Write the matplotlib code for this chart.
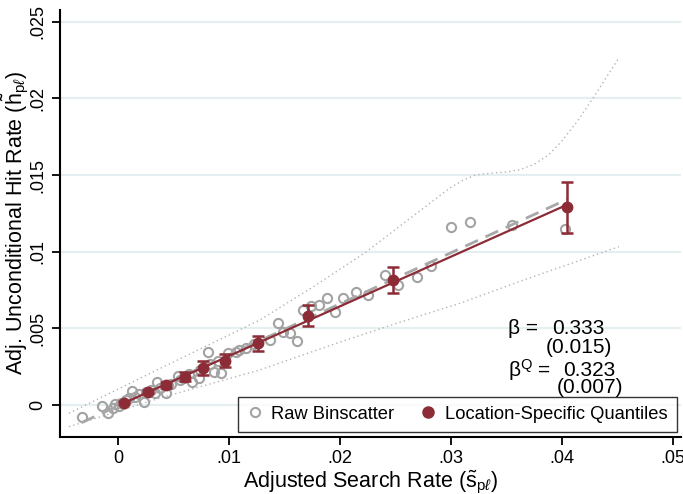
import matplotlib
matplotlib.use("Agg")
import matplotlib.pyplot as plt
import numpy as np

plt.rcParams["font.family"] = ["Liberation Sans", "DejaVu Sans"]
plt.rcParams["mathtext.fontset"] = "custom"
plt.rcParams["mathtext.rm"] = "Liberation Sans"
plt.rcParams["mathtext.it"] = "Liberation Sans:italic"

# raw binscatter (hollow grey)
raw_x = [-0.00328, -0.00142, -0.00088, -0.00050, -0.00030, 0.00010, 0.00030, 0.00070,
         0.00100, 0.00124, 0.00150, 0.00190, 0.00235, 0.00250, 0.00300, 0.00350,
         0.00330, 0.00380, 0.00430, 0.00450, 0.00480, 0.00537, 0.00560, 0.00590,
         0.00667, 0.00640, 0.00727, 0.00740, 0.00808, 0.00830, 0.00868, 0.00929,
         0.00900, 0.00989, 0.01060, 0.01095, 0.01155, 0.01230, 0.01366, 0.01441,
         0.01486, 0.01547, 0.01613, 0.01668, 0.01743, 0.01812, 0.01884, 0.01954,
         0.02030, 0.02144, 0.02256, 0.02406, 0.02527, 0.02693, 0.02820, 0.03000,
         0.03170, 0.03550, 0.04030]
raw_y = [-0.00080, -0.00007, -0.00054, -0.00022, 0.00005, -0.00007, 0.00010, 0.00030,
         0.00045, 0.00093, 0.00055, 0.00070, 0.00022, 0.00085, 0.00095, 0.00148,
         0.00080, 0.00110, 0.00076, 0.00130, 0.00140, 0.00189, 0.00160, 0.00175,
         0.00152, 0.00200, 0.00174, 0.00230, 0.00344, 0.00265, 0.00218, 0.00207,
         0.00290, 0.00337, 0.00345, 0.00359, 0.00370, 0.00395, 0.00424, 0.00533,
         0.00479, 0.00472, 0.00420, 0.00620, 0.00646, 0.00653, 0.00700, 0.00605,
         0.00697, 0.00736, 0.00718, 0.00849, 0.00783, 0.00837, 0.00907, 0.01160,
         0.01194, 0.01175, 0.01149]

# location-specific quantiles (filled red) with error bars
q_x = [0.00054, 0.00274, 0.00431, 0.00606, 0.00769, 0.00968, 0.01260, 0.01713, 0.02481, 0.04050]
q_y = [0.00015, 0.00087, 0.00131, 0.00185, 0.00240, 0.00289, 0.00403, 0.00583, 0.00816, 0.01290]
q_err = [0.00008, 0.00012, 0.00018, 0.00030, 0.00044, 0.00044, 0.00048, 0.00067, 0.00087, 0.00165]

# dotted confidence band
upper_x = [-0.00443, 0.0037, 0.0128, 0.0180, 0.0224, 0.0260, 0.0280, 0.0300, 0.0312,
           0.0322, 0.0335, 0.0350, 0.0362, 0.0375, 0.0388, 0.0400, 0.0415, 0.0429, 0.0452]
upper_y = [-0.00054, 0.00235, 0.00555, 0.0079, 0.0100, 0.0120, 0.0131, 0.0142, 0.01470,
           0.01500, 0.01512, 0.0152, 0.01535, 0.0157, 0.0163, 0.0172, 0.0186, 0.0201, 0.0227]
lower_x = [-0.00443, 0.0040, 0.01276, 0.0200, 0.02500, 0.03085, 0.0366, 0.04517]
lower_y = [-0.00142, 0.00050, 0.00228, 0.00410, 0.00530, 0.00664, 0.00816, 0.01033]

x_ticks = [0, 0.01, 0.02, 0.03, 0.04, 0.05]
x_labels = ["0", ".01", ".02", ".03", ".04", ".05"]
y_ticks = [0, 0.005, 0.01, 0.015, 0.02, 0.025]
y_labels = ["0", ".005", ".01", ".015", ".02", ".025"]

red = "#8b2c36"
grey = "#a3a3a3"

fig = plt.figure(figsize=(6.83, 4.94), dpi=100)
ax = fig.add_axes([0.0878, 0.1154, 0.9092, 0.8645])

ax.set_xlim(-0.00524, 0.05076)
ax.set_ylim(-0.00209, 0.02578)

ax.set_yticks(y_ticks)
ax.set_yticklabels(y_labels, rotation=90, va="center")
ax.set_xticks(x_ticks)
ax.set_xticklabels(x_labels)
ax.tick_params(axis="both", labelsize=13, length=6, width=1.3, color="black")
ax.tick_params(axis="y", pad=4)
ax.grid(axis="y", color="#e5eef0", lw=1.6, zorder=0)
ax.set_axisbelow(True)
for s in ["top", "right"]:
    ax.spines[s].set_visible(False)
for s in ["left", "bottom"]:
    ax.spines[s].set_linewidth(1.5)

# confidence bands
ax.plot(upper_x, upper_y, color="#b4b4b4", lw=1.0, ls=(0, (1, 2.2)), zorder=1)
ax.plot(lower_x, lower_y, color="#b4b4b4", lw=1.0, ls=(0, (1, 2.2)), zorder=1)

# raw scatter and its fit
ax.plot(raw_x, raw_y, ls="none", marker="o", ms=6.6, mfc="none", mec=grey, mew=1.5, zorder=2)
b_raw = np.polyfit(raw_x, raw_y, 1)
fx = np.array([min(raw_x), max(q_x)])
ax.plot(fx, np.polyval(b_raw, fx), color="#a8a8a8", lw=2.0, ls=(0, (5, 3)), zorder=3)

# quantile fit and points
b_q = np.polyfit(q_x, q_y, 1)
qx = np.array([q_x[0], q_x[-1]])
ax.plot(qx, np.polyval(b_q, qx), color=red, lw=1.6, zorder=4)
ax.errorbar(q_x, q_y, yerr=q_err, fmt="o", ms=7.5, color=red, ecolor=red,
            elinewidth=1.8, capsize=4.5, capthick=1.8, zorder=5)

# coefficient text
ax.text(0.03520, 0.00500, "β =", fontsize=15, va="center", ha="left")
ax.text(0.03914, 0.00500, "0.333", fontsize=15, va="center", ha="left")
ax.text(0.03855, 0.00372, "(0.015)", fontsize=15, va="center", ha="left")
ax.text(0.03520, 0.00228, r"β$^{\mathrm{Q}}$ =", fontsize=15, va="center", ha="left")
ax.text(0.04016, 0.00228, "0.323", fontsize=15, va="center", ha="left")
ax.text(0.03960, 0.00111, "(0.007)", fontsize=15, va="center", ha="left")

# legend
h1 = ax.plot([], [], ls="none", marker="o", ms=6.6, mfc="none", mec=grey, mew=1.5)[0]
h2 = ax.plot([], [], ls="none", marker="o", ms=8, color=red)[0]
leg = ax.legend([h1, h2], ["Raw Binscatter", "Location-Specific Quantiles"], ncol=2,
                loc="lower right", bbox_to_anchor=(0.993, 0.012), borderaxespad=0,
                fontsize=13.2, frameon=True, fancybox=False, edgecolor="black",
                handlelength=0.8, handletextpad=0.5, columnspacing=1.45,
                borderpad=0.5)
leg.get_frame().set_linewidth(1.0)

ax.set_xlabel(r"Adjusted Search Rate ($\tilde{\mathrm{s}}_{\mathrm{p}\ell}$)", fontsize=15.5, labelpad=1)
ax.set_ylabel(r"Adj. Unconditional Hit Rate ($\tilde{\mathrm{h}}_{\mathrm{p}\ell}$)", fontsize=15.5, labelpad=-1.5)

fig.savefig("out.png", dpi=100)
